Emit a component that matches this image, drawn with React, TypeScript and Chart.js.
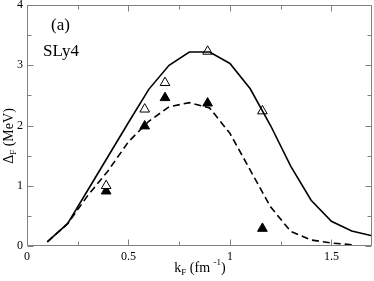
import React, { useEffect, useRef } from "react";
import { Chart, registerables } from "chart.js";

Chart.register(...registerables);

const kSolid = [0.1, 0.2, 0.3, 0.4, 0.5, 0.6, 0.7, 0.8, 0.9, 1.0, 1.1, 1.2, 1.3, 1.4, 1.5, 1.6, 1.7];
const gapSolid = [0.07, 0.37, 0.93, 1.49, 2.05, 2.6, 3.0, 3.22, 3.22, 3.03, 2.61, 2.0, 1.32, 0.76, 0.41, 0.25, 0.17];

const kDashed = [0.1, 0.2, 0.3, 0.4, 0.5, 0.6, 0.7, 0.8, 0.9, 1.0, 1.1, 1.2, 1.3, 1.4, 1.5, 1.6];
const gapDashed = [0.07, 0.37, 0.84, 1.25, 1.73, 2.07, 2.31, 2.38, 2.29, 1.87, 1.26, 0.65, 0.24, 0.1, 0.05, 0.02];

const kPoints = [0.39, 0.58, 0.68, 0.89, 1.16];
const gapOpen = [1.0, 2.27, 2.71, 3.23, 2.24];
const gapFilled = [0.91, 1.99, 2.46, 2.37, 0.29];

const xTicks = [0, 0.5, 1, 1.5];
const yTicks = [0, 1, 2, 3, 4];
const xMinor = [0.25, 0.75, 1.25];
const yMinor = [0.5, 1.5, 2.5, 3.5];

const SERIF = "'Liberation Serif', 'Times New Roman', serif";
const FRAME = "#808080";

type Seg = { t: string; size: number; dy: number };

function drawSegs(ctx: CanvasRenderingContext2D, segs: Seg[], x: number, y: number, align: "center" | "left") {
  let total = 0;
  const widths = segs.map((s) => {
    ctx.font = `${s.size}px ${SERIF}`;
    const w = ctx.measureText(s.t).width;
    total += w;
    return w;
  });
  let cx = align === "center" ? x - total / 2 : x;
  segs.forEach((s, i) => {
    ctx.font = `${s.size}px ${SERIF}`;
    ctx.fillText(s.t, cx, y + s.dy);
    cx += widths[i];
  });
}

const framePlugin = {
  id: "framePlugin",
  afterDraw(chart: any) {
    const { ctx, chartArea } = chart;
    const xs = chart.scales.x;
    const ys = chart.scales.y;
    const l = chartArea.left, r = chartArea.right, t = chartArea.top, b = chartArea.bottom;
    ctx.save();
    ctx.strokeStyle = FRAME;
    ctx.lineWidth = 1;
    ctx.beginPath();
    ctx.rect(Math.round(l) + 0.5, Math.round(t) + 0.5, Math.round(r - l) - 1, Math.round(b - t) - 1);
    ctx.stroke();
    const bx = Math.round(b) - 0.5;
    const tx = Math.round(t) + 0.5;
    const lx = Math.round(l) + 0.5;
    const rx = Math.round(r) - 0.5;
    const tickX = (v: number, len: number) => {
      const px = Math.round(xs.getPixelForValue(v)) + 0.5;
      ctx.moveTo(px, bx);
      ctx.lineTo(px, bx - len);
      ctx.moveTo(px, tx);
      ctx.lineTo(px, tx + len);
    };
    const tickY = (v: number, len: number) => {
      const py = Math.round(ys.getPixelForValue(v)) + 0.5;
      ctx.moveTo(lx, py);
      ctx.lineTo(lx + len, py);
      ctx.moveTo(rx, py);
      ctx.lineTo(rx - len, py);
    };
    ctx.beginPath();
    xTicks.forEach((v) => tickX(v, 6));
    xMinor.forEach((v) => tickX(v, 4));
    yTicks.forEach((v) => tickY(v, 6));
    yMinor.forEach((v) => tickY(v, 4));
    ctx.stroke();

    ctx.fillStyle = "#000";
    ctx.textBaseline = "alphabetic";
    ctx.textAlign = "left";
    ctx.font = `17px ${SERIF}`;
    ctx.fillText("(a)", 51, 30);
    ctx.fillText("SLy4", 43, 55.5);

    // x title
    drawSegs(
      ctx,
      [
        { t: "k", size: 14, dy: 0 },
        { t: "F", size: 9, dy: 3 },
        { t: " (fm ", size: 14, dy: 0 },
        { t: "-1", size: 9, dy: -7 },
        { t: ")", size: 14, dy: 0 },
      ],
      200,
      272,
      "center"
    );

    // y title
    ctx.save();
    ctx.translate(13, 136);
    ctx.rotate(-Math.PI / 2);
    drawSegs(
      ctx,
      [
        { t: "\u0394", size: 14, dy: 0 },
        { t: "F", size: 9, dy: 3 },
        { t: " (MeV)", size: 14, dy: 0 },
      ],
      0,
      0,
      "center"
    );
    ctx.restore();
    ctx.restore();
  },
};

function toXY(xs: number[], ys: number[]) {
  return xs.map((x, i) => ({ x, y: ys[i] }));
}

export default function App() {
  const ref = useRef<HTMLCanvasElement | null>(null);
  useEffect(() => {
    if (!ref.current) return;
    const chart = new Chart(ref.current, {
      type: "line",
      data: {
        datasets: [
          {
            data: toXY(kSolid, gapSolid),
            borderColor: "#000",
            borderWidth: 1.6,
            pointRadius: 0,
            tension: 0,
            fill: false,
          },
          {
            data: toXY(kDashed, gapDashed),
            borderColor: "#000",
            borderWidth: 1.6,
            borderDash: [7, 4],
            pointRadius: 0,
            tension: 0,
            fill: false,
          },
          {
            data: toXY(kPoints, gapOpen),
            showLine: false,
            pointStyle: "triangle",
            pointRadius: 5.6,
            pointBackgroundColor: "#fff",
            pointBorderColor: "#000",
            pointBorderWidth: 1,
          },
          {
            data: toXY(kPoints, gapFilled),
            showLine: false,
            pointStyle: "triangle",
            pointRadius: 5.6,
            pointBackgroundColor: "#000",
            pointBorderColor: "#000",
            pointBorderWidth: 1,
          },
        ],
      },
      options: {
        animation: false,
        responsive: false,
        maintainAspectRatio: false,
        layout: { autoPadding: false, padding: { top: 5, right: 2, left: 0, bottom: 0 } },
        plugins: { legend: { display: false }, tooltip: { enabled: false } },
        scales: {
          x: {
            type: "linear",
            min: 0,
            max: 1.7,
            grid: { display: false, drawTicks: false },
            border: { display: false },
            afterBuildTicks: (s: any) => {
              s.ticks = xTicks.map((v) => ({ value: v }));
            },
            afterFit: (s: any) => {
              s.height = 35;
              s.paddingLeft = 0;
              s.paddingRight = 0;
            },
            ticks: {
              padding: 4,
              maxRotation: 0,
              color: "#000",
              font: { family: SERIF, size: 12 },
              callback: (v: any) => String(v),
            },
          },
          y: {
            type: "linear",
            min: 0,
            max: 4,
            grid: { display: false, drawTicks: false },
            border: { display: false },
            afterBuildTicks: (s: any) => {
              s.ticks = yTicks.map((v) => ({ value: v }));
            },
            afterFit: (s: any) => {
              s.width = 27;
              s.paddingTop = 0;
              s.paddingBottom = 0;
            },
            ticks: {
              padding: 4,
              color: "#000",
              font: { family: SERIF, size: 12 },
              callback: (v: any) => String(v),
            },
          },
        },
      },
      plugins: [framePlugin],
    });
    return () => chart.destroy();
  }, []);
  return (
    <div style={{ position: "absolute", left: 0, top: 0, width: 374, height: 281, background: "#fff" }}>
      <canvas ref={ref} width={374} height={281} style={{ width: 374, height: 281, display: "block" }} />
    </div>
  );
}
